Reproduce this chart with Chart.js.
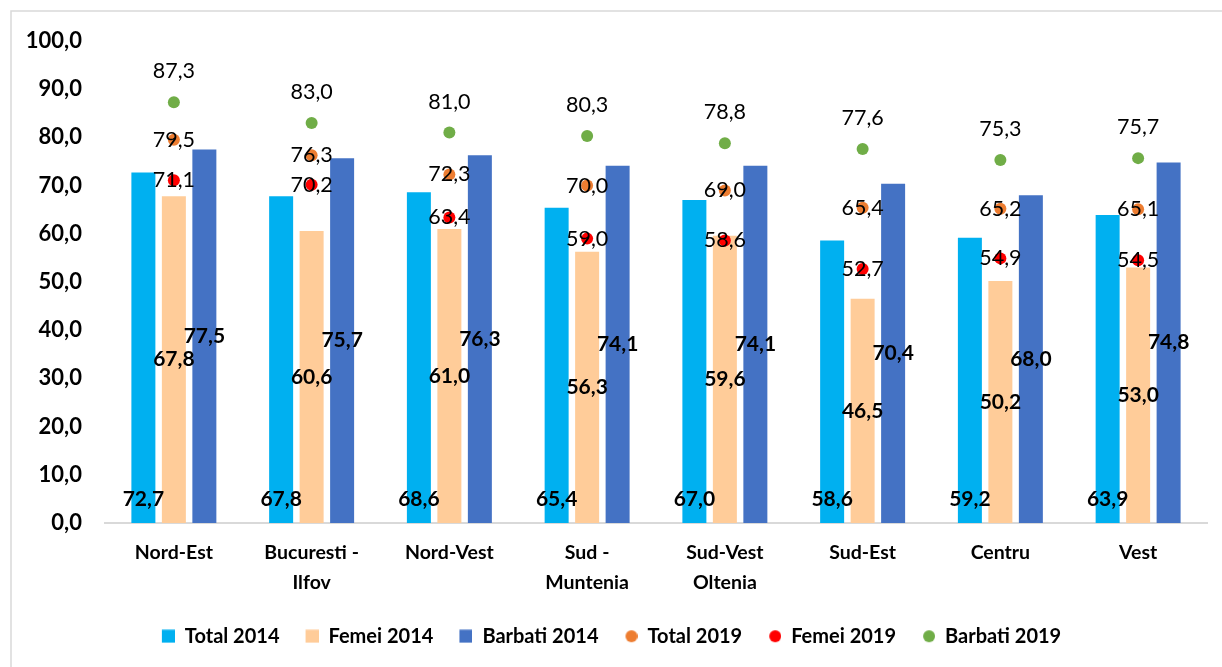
<!DOCTYPE html>
<html>
<head>
<meta charset="utf-8">
<script src="https://cdn.jsdelivr.net/npm/chart.js@4.4.0/dist/chart.umd.min.js"></script>
<style>
  html, body { margin: 0; padding: 0; background: #fff; overflow: hidden; }
  #wrap { position: relative; width: 1222px; height: 667px; }
</style>
</head>
<body>
<div id="wrap"><canvas id="chart1"></canvas></div>
<script>
const regions = [['Nord-Est'], ['Bucuresti -', 'Ilfov'], ['Nord-Vest'], ['Sud -', 'Muntenia'],
  ['Sud-Vest', 'Oltenia'], ['Sud-Est'], ['Centru'], ['Vest']];

const total2014 = [72.7, 67.8, 68.6, 65.4, 67.0, 58.6, 59.2, 63.9];
const femei2014 = [67.8, 60.6, 61.0, 56.3, 59.6, 46.5, 50.2, 53.0];
const barbati2014 = [77.5, 75.7, 76.3, 74.1, 74.1, 70.4, 68.0, 74.8];
const total2019 = [79.5, 76.3, 72.3, 70.0, 69.0, 65.4, 65.2, 65.1];
const femei2019 = [71.1, 70.2, 63.4, 59.0, 58.6, 52.7, 54.9, 54.5];
const barbati2019 = [87.3, 83.0, 81.0, 80.3, 78.8, 77.6, 75.3, 75.7];

const yTicks = [0, 10, 20, 30, 40, 50, 60, 70, 80, 90, 100];

const fmt = v => v.toFixed(1).replace('.', ',');
const FONT = 'Lato, "Open Sans", sans-serif';

// legend markers: square for bars, dot for points (drawn at the right end of a wider box)
function legendMark(shape, color) {
  const c = document.createElement('canvas');
  c.width = 29;
  c.height = 14;
  const g = c.getContext('2d');
  g.fillStyle = color;
  if (shape === 'rect') {
    g.fillRect(16, 0.5, 13, 13);
  } else {
    g.beginPath();
    g.arc(23, 7, 6, 0, Math.PI * 2);
    g.fill();
  }
  return c;
}

const colors = ['#00B0F0', '#FFCC99', '#4472C4', '#ED7D31', '#FF0000', '#70AD47'];
const marks = [
  legendMark('rect', colors[0]), legendMark('rect', colors[1]), legendMark('rect', colors[2]),
  legendMark('circle', colors[3]), legendMark('circle', colors[4]), legendMark('circle', colors[5])
];

function barSet(label, data, color) {
  return {
    type: 'bar', label: label, data: data, backgroundColor: color, borderWidth: 0,
    order: 2, barPercentage: 0.787, categoryPercentage: 0.664
  };
}

function dotSet(label, data, color) {
  return {
    type: 'line', label: label, data: data, showLine: false,
    backgroundColor: color, borderColor: color, pointRadius: 6, pointHoverRadius: 6,
    pointBorderWidth: 0, order: 1
  };
}

const frame = {
  id: 'frame',
  beforeDraw(chart) {
    const ctx = chart.ctx;
    ctx.save();
    ctx.fillStyle = '#fff';
    ctx.fillRect(0, 0, chart.width, chart.height);
    ctx.strokeStyle = '#d9d9d9';
    ctx.lineWidth = 1.5;
    ctx.strokeRect(11, 11, 1400, 1000);
    ctx.restore();
  }
};

const valueLabels = {
  id: 'valueLabels',
  afterDatasetsDraw(chart) {
    const ctx = chart.ctx;
    ctx.save();
    ctx.fillStyle = '#000';
    ctx.textAlign = 'center';
    ctx.textBaseline = 'middle';
    chart.data.datasets.forEach((ds, i) => {
      const meta = chart.getDatasetMeta(i);
      meta.data.forEach((el, j) => {
        const text = fmt(ds.data[j]);
        let y;
        if (i < 3) {
          ctx.font = 'bold 21px ' + FONT;
          y = i === 0 ? el.base - 24 : (el.y + el.base) / 2;
        } else {
          ctx.font = '21.5px ' + FONT;
          y = i === 5 ? el.y - 31 : el.y;
        }
        ctx.fillText(text, el.x, y);
      });
    });
    ctx.restore();
  }
};

new Chart(document.getElementById('chart1'), {
  data: {
    labels: regions,
    datasets: [
      barSet('Total 2014', total2014, colors[0]),
      barSet('Femei 2014', femei2014, colors[1]),
      barSet('Barbati 2014', barbati2014, colors[2]),
      dotSet('Total 2019', total2019, colors[3]),
      dotSet('Femei 2019', femei2019, colors[4]),
      dotSet('Barbati 2019', barbati2019, colors[5])
    ]
  },
  options: {
    responsive: true,
    maintainAspectRatio: false,
    animation: false,
    layout: { padding: { left: 0, right: 15, top: 41, bottom: 10.75 } },
    scales: {
      x: {
        grid: { display: false, drawTicks: false },
        border: { color: '#d9d9d9', width: 2 },
        ticks: { color: '#000', padding: 15, font: { family: FONT, size: 19.5, weight: 'bold', lineHeight: 1.54 } },
        afterFit(scale) { scale.height = 93.25; }
      },
      y: {
        min: 0,
        max: 100,
        grid: { display: false, drawTicks: false },
        border: { display: false },
        afterBuildTicks(scale) { scale.ticks = yTicks.map(v => ({ value: v })); },
        ticks: {
          color: '#000', padding: 23,
          font: { family: FONT, size: 22, weight: 'bold' },
          callback: v => fmt(v)
        },
        afterFit(scale) { scale.width = 105; }
      }
    },
    plugins: {
      tooltip: { enabled: false },
      legend: {
        position: 'bottom',
        labels: {
          usePointStyle: true,
          pointStyleWidth: 29,
          boxHeight: 14,
          padding: 10,
          color: '#000',
          font: { family: FONT, size: 20, weight: 'bold' },
          sort: (a, b) => a.datasetIndex - b.datasetIndex,
          generateLabels(chart) {
            const items = Chart.defaults.plugins.legend.labels.generateLabels(chart);
            items.forEach(it => { it.pointStyle = marks[it.datasetIndex]; it.lineWidth = 0; });
            return items;
          }
        }
      }
    }
  },
  plugins: [frame, valueLabels]
});
</script>
</body>
</html>
